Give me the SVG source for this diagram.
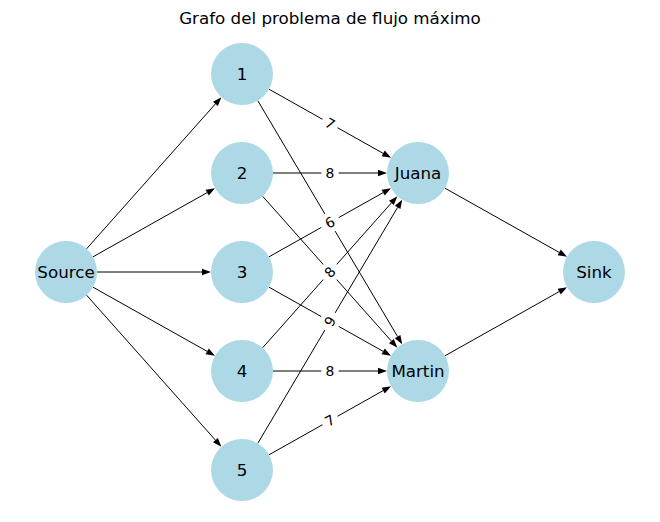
<svg xmlns="http://www.w3.org/2000/svg" width="660" height="522" viewBox="0 0 660 522">
<style>
.node circle{fill:#add8e6;stroke:none}
.node text{font-family:"DejaVu Sans",sans-serif;font-size:16.7px;text-anchor:middle;fill:#000}
.edges line{stroke:#000;stroke-width:1;marker-end:url(#ah)}
.lbl rect{fill:#fff;stroke:none}
.lbl text{font-family:"DejaVu Sans",sans-serif;font-size:13.9px;text-anchor:middle;fill:#000}
.title{font-family:"DejaVu Sans",sans-serif;font-size:16.7px;text-anchor:middle;fill:#000}
</style>
<defs>
<marker id="ah" markerUnits="userSpaceOnUse" markerWidth="9" markerHeight="6.5" refX="0" refY="3.25" orient="auto" overflow="visible">
<path d="M0,0 L9,3.25 L0,6.5 z" fill="#000"/>
</marker>
</defs>
<rect width="660" height="522" fill="#fff"/>
<text class="title" x="330" y="24">Grafo del problema de flujo máximo</text>
<g id="edges" class="edges">
<line x1="86.6" y1="248.8" x2="215.4" y2="103.9"/>
<line x1="93.0" y1="256.8" x2="207.2" y2="192.6"/>
<line x1="97" y1="272" x2="202" y2="272"/>
<line x1="93.0" y1="287.2" x2="207.2" y2="351.4"/>
<line x1="86.6" y1="295.2" x2="215.4" y2="440.1"/>
<line x1="269.0" y1="89.2" x2="383.2" y2="153.4"/>
<line x1="257.8" y1="100.7" x2="397.6" y2="336.6"/>
<line x1="273" y1="173" x2="378" y2="173"/>
<line x1="262.6" y1="196.2" x2="391.4" y2="341.1"/>
<line x1="269.0" y1="256.8" x2="383.2" y2="192.6"/>
<line x1="269.0" y1="287.2" x2="383.2" y2="351.4"/>
<line x1="262.6" y1="347.8" x2="391.4" y2="202.9"/>
<line x1="273" y1="371" x2="378" y2="371"/>
<line x1="257.8" y1="443.3" x2="397.6" y2="207.4"/>
<line x1="269.0" y1="454.8" x2="383.2" y2="390.6"/>
<line x1="445.0" y1="188.2" x2="559.2" y2="252.4"/>
<line x1="445.0" y1="355.8" x2="559.2" y2="291.6"/>
</g>
<g id="edge-labels" class="lbl">
<g transform="translate(330,123.5) rotate(29.4)"><rect x="-8.6" y="-10" width="17.2" height="20" rx="3"/><text y="5">7</text></g>
<g transform="translate(330,222.5) rotate(59.3)"><rect x="-8.6" y="-10" width="17.2" height="20" rx="3"/></g>
<g transform="translate(330,173)"><rect x="-8.6" y="-10" width="17.2" height="20" rx="3"/><text y="5">8</text></g>
<g transform="translate(330,272) rotate(48.4)"><rect x="-8.6" y="-10" width="17.2" height="20" rx="3"/></g>
<g transform="translate(330,222.5) rotate(-29.4)"><rect x="-8.6" y="-10" width="17.2" height="20" rx="3"/><text y="5">6</text></g>
<g transform="translate(330,321.5) rotate(29.4)"><rect x="-8.6" y="-10" width="17.2" height="20" rx="3"/></g>
<g transform="translate(330,272) rotate(-48.4)"><rect x="-8.6" y="-10" width="17.2" height="20" rx="3"/><text y="5">8</text></g>
<g transform="translate(330,371)"><rect x="-8.6" y="-10" width="17.2" height="20" rx="3"/><text y="5">8</text></g>
<g transform="translate(330,321.5) rotate(-59.3)"><rect x="-8.6" y="-10" width="17.2" height="20" rx="3"/><text y="5">9</text></g>
<g transform="translate(330,420.5) rotate(-29.4)"><rect x="-8.6" y="-10" width="17.2" height="20" rx="3"/><text y="5">7</text></g>
</g>
<g id="node-Source" class="node"><circle cx="66" cy="272" r="31"/><text x="66" y="278">Source</text></g>
<g id="node-1" class="node"><circle cx="242" cy="74" r="31"/><text x="242" y="80">1</text></g>
<g id="node-2" class="node"><circle cx="242" cy="173" r="31"/><text x="242" y="179">2</text></g>
<g id="node-3" class="node"><circle cx="242" cy="272" r="31"/><text x="242" y="278">3</text></g>
<g id="node-4" class="node"><circle cx="242" cy="371" r="31"/><text x="242" y="377">4</text></g>
<g id="node-5" class="node"><circle cx="242" cy="470" r="31"/><text x="242" y="476">5</text></g>
<g id="node-Juana" class="node"><circle cx="418" cy="173" r="31"/><text x="418" y="179">Juana</text></g>
<g id="node-Martin" class="node"><circle cx="418" cy="371" r="31"/><text x="418" y="377">Martin</text></g>
<g id="node-Sink" class="node"><circle cx="594" cy="272" r="31"/><text x="594" y="278">Sink</text></g>
</svg>
